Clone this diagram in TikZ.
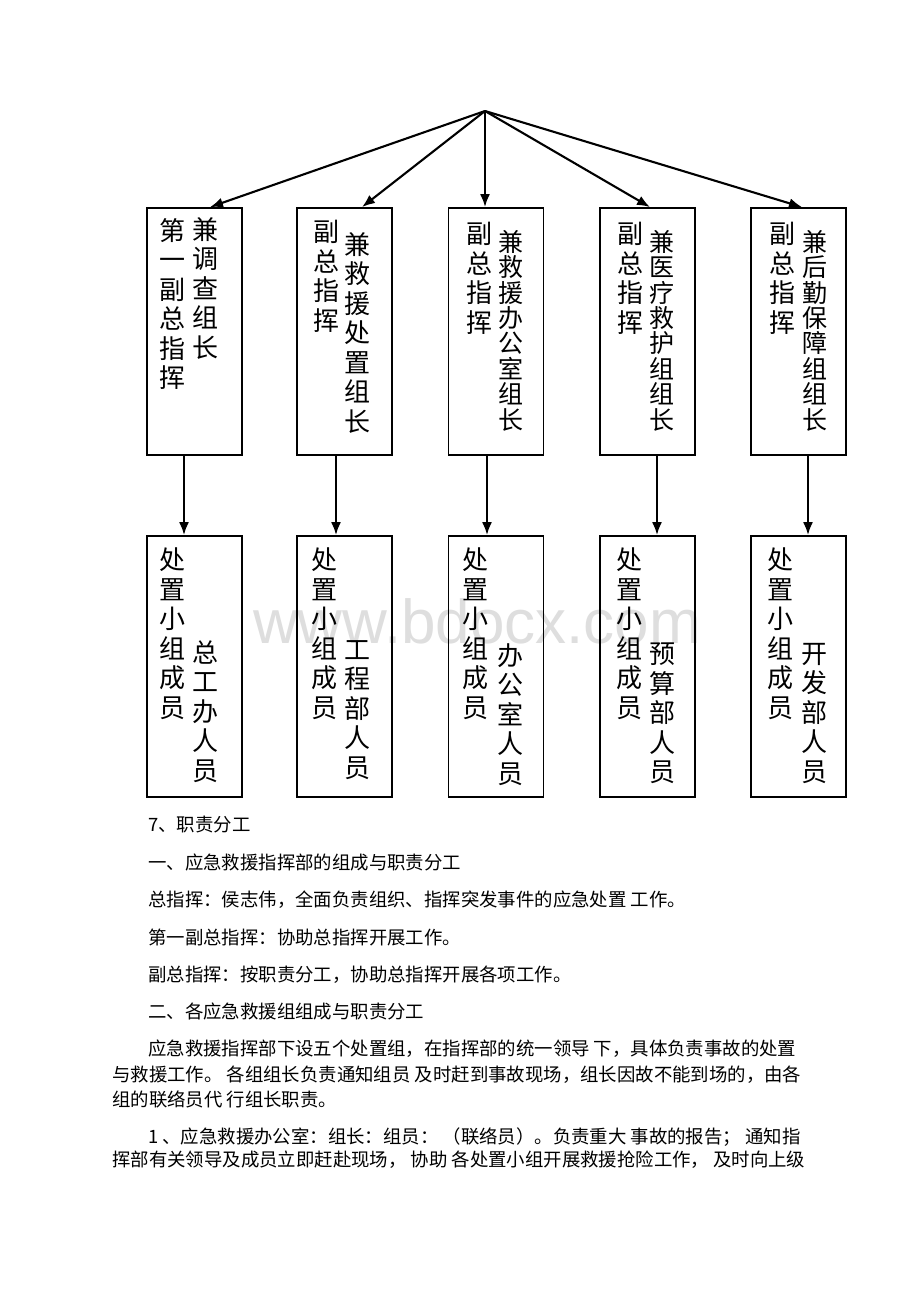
\documentclass[tikz,border=0pt]{standalone}
\usepackage{fontspec}
\setmainfont{Liberation Sans}
\newfontfamily\cjk{Noto Sans CJK SC}
\usetikzlibrary{arrows.meta}

\newcommand{\colfont}{\cjk\fontsize{26}{29.5}\selectfont}
\newcommand{\tightfont}{\cjk\fontsize{25}{25.4}\selectfont}
\newcommand{\bodyfont}{\cjk\fontsize{18.4}{22}\selectfont}

\begin{document}
\begin{tikzpicture}[
  x=1pt, y=-1pt,
  boxnode/.style={rectangle, draw=black, line width=1.8pt, minimum width=95pt, minimum height=247pt, inner sep=0pt},
  membernode/.style={boxnode, minimum height=261pt},
  colnode/.style={anchor=north, align=center, inner sep=0pt, font=\colfont},
  tightcol/.style={colnode, font=\tightfont},
  linenode/.style={anchor=base west, inner sep=0pt, font=\bodyfont},
  arr/.style={-{Latex[length=13pt,width=10pt]}, line width=2.1pt},
  ]

\useasboundingbox[fill=white] (0,0) rectangle (920,1302);

% watermark
\node[anchor=base west, inner sep=0pt, text=black!13, font=\fontsize{62}{62}\selectfont] (mark) at (253,643) {www.bdocx.com};

\coordinate (apex) at (485,111);

% leaders
\node[boxnode] (t1) at (194.5,331.5) {};
\node[boxnode] (t2) at (344.5,331.5) {};
\node[boxnode] (t3) at (496,331.5) {};
\node[boxnode] (t4) at (647.5,331.5) {};
\node[boxnode] (t5) at (798.5,331.5) {};

\node[colnode] (t1a) at (172.5,218) {第\\一\\副\\总\\指\\挥};
\node[colnode] (t1b) at (205.5,217) {兼\\调\\查\\组\\长};
\node[colnode] (t2a) at (326.5,220) {副\\总\\指\\挥};
\node[colnode] (t2b) at (357,232) {兼\\救\\援\\处\\置\\组\\长};
\node[colnode] (t3a) at (479.5,222) {副\\总\\指\\挥};
\node[tightcol] (t3b) at (510.5,230) {兼\\救\\援\\办\\公\\室\\组\\长};
\node[colnode] (t4a) at (630.5,222) {副\\总\\指\\挥};
\node[tightcol] (t4b) at (661.5,230) {兼\\医\\疗\\救\\护\\组\\组\\长};
\node[colnode] (t5a) at (782.5,222) {副\\总\\指\\挥};
\node[tightcol] (t5b) at (814.5,230) {兼\\后\\勤\\保\\障\\组\\组\\长};

% members
\node[membernode] (b1) at (194.5,666.5) {};
\node[membernode] (b2) at (344.5,666.5) {};
\node[membernode] (b3) at (496,666.5) {};
\node[membernode] (b4) at (647.5,666.5) {};
\node[membernode] (b5) at (798.5,666.5) {};

\node[colnode] (b1a) at (172.5,548) {处\\置\\小\\组\\成\\员};
\node[colnode] (b1b) at (205.5,640) {总\\工\\办\\人\\员};
\node[colnode] (b2a) at (324.5,548) {处\\置\\小\\组\\成\\员};
\node[colnode] (b2b) at (357.5,640) {工\\程\\部\\人\\员};
\node[colnode] (b3a) at (475.5,548) {处\\置\\小\\组\\成\\员};
\node[colnode] (b3b) at (510.5,643) {办\\公\\室\\人\\员};
\node[colnode] (b4a) at (629.5,548) {处\\置\\小\\组\\成\\员};
\node[colnode] (b4b) at (662.5,643) {预\\算\\部\\人\\员};
\node[colnode] (b5a) at (780.5,548) {处\\置\\小\\组\\成\\员};
\node[colnode] (b5b) at (814.5,643) {开\\发\\部\\人\\员};

\draw[arr] (apex) -- ([xshift=15.5pt]t1.north);
\draw[arr] (apex) -- ([xshift=17.5pt]t2.north);
\draw[arr] (apex) -- ([xshift=-11pt]t3.north);
\draw[arr] (apex) -- ([xshift=2.5pt]t4.north);
\draw[arr] (apex) -- ([xshift=3.5pt]t5.north);

\draw[arr] ([xshift=-10.5pt]t1.south) -- ([xshift=-10.5pt]b1.north);
\draw[arr] ([xshift=-8.5pt]t2.south) -- ([xshift=-8.5pt]b2.north);
\draw[arr] ([xshift=-9pt]t3.south) -- ([xshift=-9pt]b3.north);
\draw[arr] ([xshift=9.5pt]t4.south) -- ([xshift=9.5pt]b4.north);
\draw[arr] ([xshift=9.5pt]t5.south) -- ([xshift=9.5pt]b5.north);

% text below
\node[linenode] (l1) at (148,831.5) {7、职责分工};
\node[linenode] (l2) at (148,869.5) {一、应急救援指挥部的组成与职责分工};
\node[linenode] (l3) at (148,906.5) {总指挥：侯志伟，全面负责组织、指挥突发事件的应急处置 工作。};
\node[linenode] (l4) at (148,944.5) {第一副总指挥：协助总指挥开展工作。};
\node[linenode] (l5) at (148,981.5) {副总指挥：按职责分工，协助总指挥开展各项工作。};
\node[linenode] (l6) at (148,1018.5) {二、各应急救援组组成与职责分工};
\node[linenode] (l7) at (148,1055.5) {应急救援指挥部下设五个处置组，在指挥部的统一领导 下，具体负责事故的处置};
\node[linenode] (l8) at (112,1081) {与救援工作。 各组组长负责通知组员 及时赶到事故现场，组长因故不能到场的，由各};
\node[linenode] (l9) at (112,1106) {组的联络员代 行组长职责。};
\node[linenode] (l10) at (148,1143.5) {1 、应急救援办公室：组长：组员： （联络员）。负责重大 事故的报告； 通知指};
\node[linenode] (l11) at (112,1166.5) {挥部有关领导及成员立即赶赴现场， 协助 各处置小组开展救援抢险工作， 及时向上级};

\end{tikzpicture}
\end{document}
